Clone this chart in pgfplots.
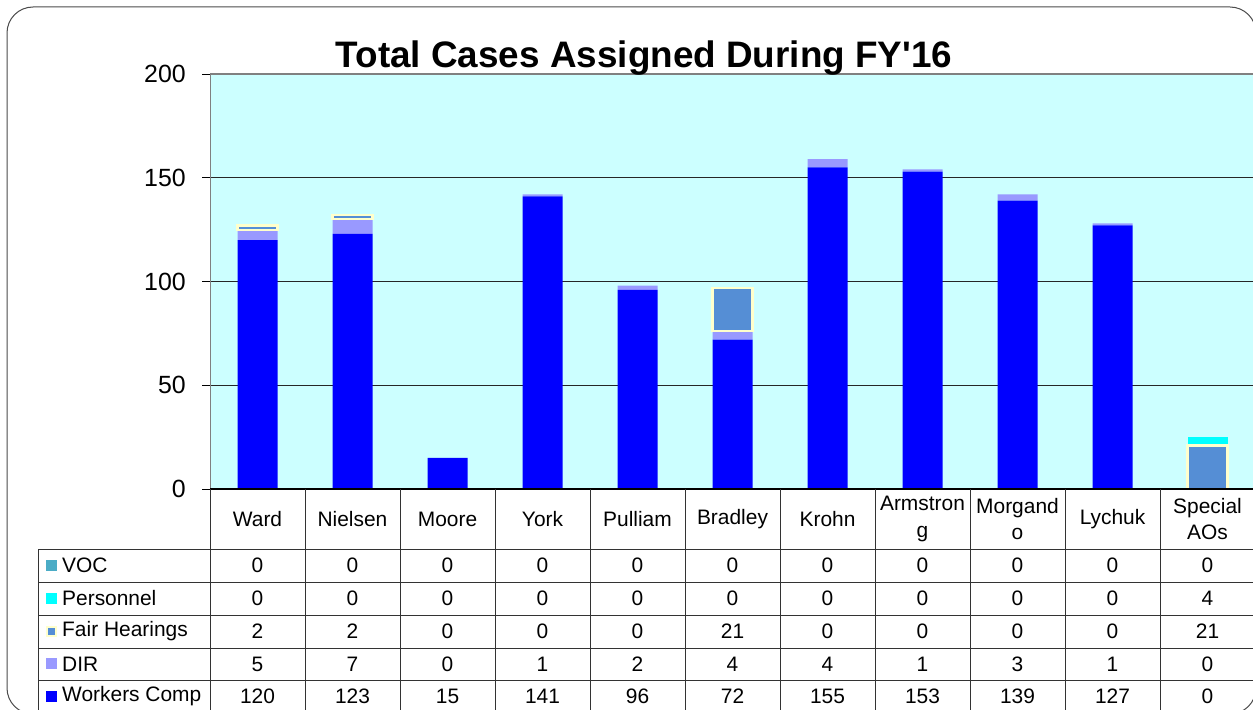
\documentclass[border=0pt]{standalone}
\usepackage{pgfplots}
\usepackage{pgfplotstable}
\pgfplotsset{compat=1.18}
\usepackage{fontspec}
\setmainfont{Liberation Sans}
\definecolor{wc}{HTML}{0000FF}
\definecolor{dir}{HTML}{9999FF}
\definecolor{fh}{HTML}{558ED5}
\definecolor{fhb}{HTML}{FFFFCC}
\definecolor{pers}{HTML}{00FFFF}
\definecolor{voc}{HTML}{4BACC6}
\definecolor{bg}{HTML}{CCFFFF}
\pgfplotstableread{
x wc dir fh pers voc
0 120 5 2 0 0
1 123 7 2 0 0
2 15 0 0 0 0
3 141 1 0 0 0
4 96 2 0 0 0
5 72 4 21 0 0
6 155 4 0 0 0
7 153 1 0 0 0
8 139 3 0 0 0
9 127 1 0 0 0
10 0 0 21 4 0
}\datatable
\pgfplotsset{geom/.style={at={(210bp,-489bp)}, anchor=south west,
  scale only axis, width=1045bp, height=415bp,
  xmin=-0.5, xmax=10.5, ymin=0, ymax=200,
  ybar stacked, bar width=40bp}}
\begin{document}
\begin{tikzpicture}[x=1bp,y=1bp]
\useasboundingbox (0,0) rectangle (1253,-710);
\clip (0,0) rectangle (1253,-710);
\fill[white] (0,0) rectangle (1253,-710);
\begin{axis}[geom,
  xtick=\empty, ytick={0,50,100,150,200},
  ymajorgrids, grid style={black!85, line width=0.9bp},
  axis background/.style={fill=bg},
  axis line style={draw=none},
  tick align=outside, tick pos=left, major tick length=8bp,
  ytick style={black, line width=0.9bp},
  /pgf/number format/assume math mode=true,
  yticklabel style={font=\fontsize{25}{25}\selectfont, inner sep=0pt, xshift=-16bp},
]
\addplot[fill=wc, draw=none] table[x=x,y=wc]{\datatable};
\addplot[fill=dir, draw=none] table[x=x,y=dir]{\datatable};
\draw[black!50, line width=2bp] (rel axis cs:0,0) -- (rel axis cs:0,1) -- (rel axis cs:1,1);
\end{axis}
\begin{axis}[geom, hide axis,
  x filter/.expression={\thisrow{fh}==0 ? nan : x}]
\addplot[fill=none, draw=none] table[x=x,y expr=\thisrow{wc}+\thisrow{dir}]{\datatable};
\addplot[fill=fh, draw=fhb, line width=2.2bp] table[x=x,y=fh]{\datatable};
\addplot[fill=pers, draw=none] table[x=x,y=pers]{\datatable};
\addplot[fill=voc, draw=none] table[x=x,y=voc]{\datatable};
\end{axis}
\draw[black, line width=1.2bp] (210,-489) -- (1256,-489);
% frame
\draw[black!70, line width=1bp, rounded corners=26bp] (7,-7) rectangle (1256,-714);
% title
\node[font=\fontsize{37}{37}\selectfont\bfseries, anchor=base, inner sep=0pt] at (644,-68) {Total Cases Assigned During FY\textquotesingle 16};
% table grid
\foreach \k in {0,...,11} {\draw[black!80, line width=1bp] (210+95*\k,-489) -- (210+95*\k,-715);}
\draw[black!80, line width=1bp] (38,-549) -- (38,-715);
\foreach \yy in {549,582,615,648,680} {\draw[black!80, line width=1bp] (38,-\yy) -- (1256,-\yy);}
% header names
\begin{scope}[every node/.style={font=\fontsize{21}{27}\selectfont, align=center, inner sep=0pt}]
\foreach \n [count=\i from 0] in {Ward,Nielsen,Moore,York,Pulliam,Bradley,Krohn,Armstron\\g,Morgand\\o,Lychuk,Special\\AOs}
  {\node at (257.5+95*\i,-519) {\n};}
\foreach \v [count=\i from 0] in {0,0,0,0,0,0,0,0,0,0,0}
  {\node at (257.5+95*\i,-565.5) {\v};}
\foreach \v [count=\i from 0] in {0,0,0,0,0,0,0,0,0,0,4}
  {\node at (257.5+95*\i,-598.5) {\v};}
\foreach \v [count=\i from 0] in {2,2,0,0,0,21,0,0,0,0,21}
  {\node at (257.5+95*\i,-631.5) {\v};}
\foreach \v [count=\i from 0] in {5,7,0,1,2,4,4,1,3,1,0}
  {\node at (257.5+95*\i,-664) {\v};}
\foreach \v [count=\i from 0] in {120,123,15,141,96,72,155,153,139,127,0}
  {\node at (257.5+95*\i,-696.5) {\v};}
% legend keys
\fill[voc] (46,-560) rectangle (57,-571);
\fill[pers] (46,-593) rectangle (57,-604);
\fill[fhb] (46,-626) rectangle (57,-637);
\fill[fh] (48,-628) rectangle (55,-635);
\fill[dir] (46,-658) rectangle (57,-669);
\fill[wc] (46,-691) rectangle (57,-702);
\node[anchor=west] at (62,-565.5) {VOC};
\node[anchor=west] at (62,-598.5) {Personnel};
\node[anchor=west] at (62,-631.5) {Fair Hearings};
\node[anchor=west] at (62,-664) {DIR};
\node[anchor=west] at (62,-696.5) {Workers Comp};
\end{scope}
\end{tikzpicture}
\end{document}
